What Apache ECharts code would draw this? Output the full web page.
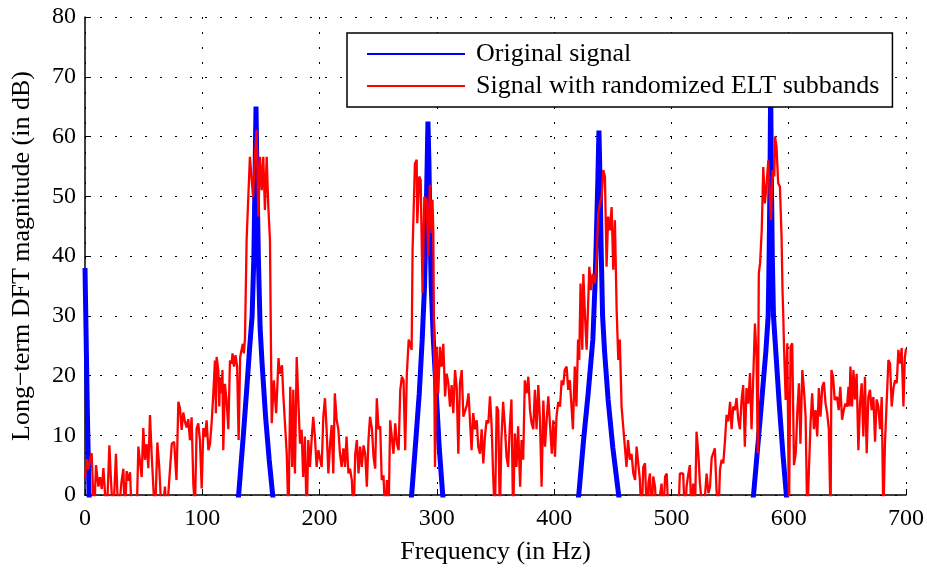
<!DOCTYPE html>
<html>
<head>
<meta charset="utf-8">
<script src="https://cdn.jsdelivr.net/npm/echarts@6/dist/echarts.min.js"></script>
<style>
html,body{margin:0;padding:0;background:#fff;}
#chart{width:927px;height:570px;}
</style>
</head>
<body>
<div id="chart"></div>
<script>
// ---- Data ----
const xTicks = [0, 100, 200, 300, 400, 500, 600, 700];
const yTicks = [0, 10, 20, 30, 40, 50, 60, 70, 80];
const seriesNames = ['Original signal', 'Signal with randomized ELT subbands'];

// Original signal (blue): narrow peaks; values below 0 dB fall outside the axis
const blueFreq = [0, 1, 2, 3, 3.5, 4.5,
  128, 131, 135, 138, 140.5, 142.5, 144, 144.8, 145.8, 146.8, 147.8, 149.3, 151, 154, 157, 160, 163,
  276, 278.5, 282, 285, 287.5, 289.5, 290.8, 291.8, 292.4, 293.2, 294, 295.2, 297, 299.5, 302, 305, 308,
  418, 421, 425, 429, 433, 435, 436.5, 437.3, 438.2, 439.2, 440, 441.3, 443, 446, 450, 455, 458,
  567, 570, 574, 577.5, 580.5, 582.5, 583.3, 584, 584.6, 585.3, 586, 587, 589, 592, 595, 598, 601];
const blueDb = [38, 26, 14, 4, 0, -5,
  -5, 0, 10, 18, 25, 30, 40, 51, 65, 51, 40, 28, 22, 13, 6, 0, -6,
  -4, 0, 9, 17, 26, 35, 46, 56, 62.5, 56, 46, 35, 26, 17, 8, 0, -6,
  -4, 0, 9, 17, 26, 36, 47, 53, 61, 52, 42, 30, 24, 16, 8, 0, -5,
  -4, 0, 9, 17, 24, 30, 40, 52, 68, 52, 40, 30, 24, 15, 7, 0, -5];

// Signal with randomized ELT subbands (red)
const redFreq = [0, 1.5, 2.8, 4.3, 5.7, 7.7, 9.4, 11.4, 12.8, 14.3, 15.7, 18.5, 20.8, 22, 24, 26.4, 28.4, 31, 32.7, 34,
  35.5, 37, 38.4, 40, 44, 45.5, 46.9, 48.3, 49.7, 51.1, 52.6, 54, 55.4, 56.8, 58.2, 59.7, 61.7, 63.4, 65.4, 68.2,
  69.6, 72, 74, 76, 78, 79.6, 81, 82.4, 83.8, 85.3, 86.7, 88, 89.5, 90.9, 92.4, 93.8, 95.2, 96.6, 98, 99.5,
  100.9, 102.3, 103.7, 105.2, 106.6, 108, 109.4, 110.8, 111.6, 112.2, 113.7, 114.5, 115, 116.5, 117.2, 117.9, 119.3, 120.7, 122.2, 123.6,
  125, 125.8, 127, 128.3, 129.7, 131, 132.3, 134.5, 135.5, 136.4, 137.8, 140.6, 141.9, 143.3, 144.8, 146.3, 147.8, 149.2, 150.7, 152,
  153.4, 154.9, 156.3, 157.7, 158.5, 159.2, 161, 163, 165, 166, 168, 169, 170.5, 172, 173.5, 175, 176.7, 177.6, 179, 180.5,
  182, 183.3, 184.7, 186, 187.5, 189, 190.4, 191.8, 193.2, 194.6, 196, 197.5, 199, 200.4, 201.8, 203.2, 204.6, 206, 207.5, 209,
  210.3, 211.7, 213, 214.6, 216, 217.4, 218.8, 220.3, 221.7, 223, 224.6, 226, 227.5, 229, 230.4, 231.8, 233.2, 234.6, 236, 237.5,
  238.9, 240.3, 241.7, 243, 244.6, 246, 247.4, 248.8, 250.3, 251.7, 253, 254.5, 256, 257.4, 258.8, 260.2, 261.6, 263, 264.5, 266,
  267.4, 268.8, 270.2, 271.6, 273, 274.4, 276, 278.5, 279.3, 281.3, 282.8, 283.3, 285, 286.2, 287.8, 289.3, 291.3, 292.7, 294, 295.5,
  296.3, 297, 297.6, 298.4, 299.8, 301.2, 302.6, 304, 305.5, 307, 308.4, 309.8, 311.2, 312.6, 314, 315.5, 316.9, 318.3, 319.7, 321.2,
  322.6, 324, 325.5, 327, 328, 329.6, 331, 332.5, 334, 335.3, 336.8, 338.2, 339.6, 341, 342.4, 343.9, 345.3, 346.7, 348, 349.5,
  351, 352.3, 353.7, 355, 356.5, 358, 359.4, 360.8, 362.2, 363.6, 365, 366.5, 367.9, 369.3, 371, 372.2, 373.6, 375, 376.5, 378,
  379.4, 380.8, 382.2, 383.6, 385, 386.5, 387.9, 389.3, 390.8, 392.2, 393.6, 395, 396.4, 398, 399.3, 400.7, 402, 403.5, 405, 406.4,
  407.8, 409, 410.6, 412, 413.4, 416, 417.6, 419, 420.4, 421.4, 422.5, 424, 424.9, 426.3, 427.7, 430, 431.4, 432.8, 434.8, 436.2,
  437.6, 439, 440.5, 441.9, 443.3, 444.7, 446, 447.5, 449, 450.4, 451.8, 453.3, 454.7, 456, 457.5, 459, 460.3, 461.7, 463, 464.6,
  466, 467.5, 469, 470.3, 471.7, 473, 474.6, 476, 477.5, 479, 480.4, 481.7, 483, 484.5, 486, 487.5, 491.6, 493, 494.6, 496,
  497.5, 505.8, 507.2, 508.6, 510, 511.5, 512.9, 514.3, 515.7, 517.1, 518.5, 520, 521.4, 522.9, 524.3, 525.7, 527.2, 528.6, 530, 531.5,
  532.9, 534.3, 535.7, 537, 538.5, 540, 541.4, 542.8, 544.2, 545.6, 547, 548.5, 550, 551.3, 552.7, 554.1, 555.5, 557, 558.4, 559.8,
  561.2, 562.6, 564, 565.5, 567, 568.3, 569.7, 571.2, 572.6, 573.6, 574.5, 575.6, 577, 578.3, 579.7, 581.2, 582.6, 584, 584.8, 586.3,
  587.7, 588.3, 589.6, 591, 592.5, 593.9, 594.7, 595.3, 596, 597.4, 598.8, 600.2, 601.6, 603, 604.5, 606, 607.3, 608.7, 610, 611.6,
  613, 614.4, 615.8, 617.2, 618.6, 620, 621.5, 622.9, 624.3, 625.7, 627.1, 628.6, 630, 631.4, 632.8, 634.2, 635.7, 636.4, 637.8, 639.2,
  641.2, 642.6, 644, 645.5, 646.9, 648.3, 649.7, 651, 651.8, 652.6, 654, 655.2, 656.5, 657.9, 659.4, 660.8, 662.2, 663.6, 665, 666.5,
  667.9, 669.3, 670.7, 672.2, 673.6, 675, 676.4, 677.9, 679.3, 680.7, 682, 683.6, 685, 686.4, 687.8, 689.3, 690.7, 692.1, 693.5, 695,
  696.3, 697.8, 699, 700];
const redDb = [3, 6, 4.4, 6, 7, -4, 5, 1.4, 3, 1, 4.5, -4, 8.3, 3, -4, 6.9, -4, 2, 4.4, -4,
  4, 2.4, 3.8, -4, -4, 8.1, 8.4, 3, 11.2, 5.9, 8.5, 4.5, 13.4, 6.9, 6.6, -4, 8.8, 4.4, -4, 1.4,
  -4, 3, 8.6, 8.9, 2.5, 15.6, 14.5, 10.9, 13.8, 12.2, 11.3, 12.7, 9.2, 13, 1.7, -2, 11.2, 12, 9.2, 1.1,
  11.2, 9.7, 12.5, 7.5, 8.6, 12.2, 17, 22.5, 13.7, 23.1, 20.9, 14.8, 19.7, 17, 20.9, 7.5, 18.6, 15.8, 11, 22.5,
  22, 23.7, 21.5, 23.4, 21.5, 9.2, 23.1, 25.3, 23.7, 26.2, 42.7, 56.6, 56.6, 49.9, 56.6, 61.1, 46.6, 56.6, 51, 56.6,
  47.7, 56.6, 48.2, 42.7, 26, 12, 19.2, 13.7, 22.9, 20.3, 21.7, 17, 12, 6.9, -4, 18.1, 4.7, 17.6, 3.6, 23.1,
  23.4, 8.6, 10.9, 3, 9.8, -4, 9.2, 4.7, 9.2, 13.1, 9.8, 4.7, 7.5, 7.5, 4.7, 13.1, 16.2, 11, 3.6, 8.6,
  11.7, 3.6, 17, 12.5, 11, 6.9, 4.7, 7.8, 4.7, 9.8, 3.6, 4.4, 2.5, -4, 6.9, 9.2, 3.6, 8.1, 4.7, 8.3,
  6.9, 1.4, 9.2, 13.1, 11.2, 6.4, 4.4, 16.2, 11, 11.5, 2.5, 3.3, -4, 2.5, -4, 12.5, 12.8, 6.9, 12, 8.6,
  7.5, 17.6, 19.8, 19.2, 7.5, 20.3, 26, 24.3, 41, 55.5, 56.1, 45.5, 53.3, 52.7, 33.8, 49.9, 49.4, 39.9, 51.9, 43.8,
  49.4, 43.8, 24.3, 4.7, 24.8, 17, 24.8, 21.5, 25.3, 16.5, 20.3, 18.7, 14.8, 18.4, 13.7, 20.9, 18.1, 6.9, 18.7, 20.9,
  13.1, 13.1, 15, 17, 17, 7.5, 13.7, 11, 12.5, 8.1, 6.9, 11, 5.3, 9.8, 12.5, 12, 16.5, 11.5, 3.3, -4,
  14.8, 14.2, -4, 9.2, 15.6, 11.5, 6.4, 4.7, 11.5, 16, -4, 10.3, 4.7, 11.5, 1.4, 9.2, 5.9, 19.2, 17, 19.8,
  14.2, 12, 11, 17.6, 11, 18.4, 12.5, 1.4, 15.8, 8.1, 12.5, 16.5, 12, 6.9, 12.5, 6.4, 13.1, 15.6, 14.8, 19.2,
  18.4, 20.9, 21.5, 17.6, 19.2, 11, 21.5, 14.8, 26, 22.6, 35.4, 24.3, 37, 30, 24.3, 38.2, 34.3, 37, 35.4, 39.3,
  47.1, 48.8, 49.9, 54.4, 53.3, 38.2, 46.6, 44.3, 48.2, 37.7, 46, 30.9, 22.6, 26, 14.8, 11.2, 11.5, 4.7, 9.2, 5.9,
  6.9, 3.6, 2.5, 8.1, 8.1, 2.8, -4, 4.7, 5.3, -4, 2, 3.6, -4, 3.1, 1.4, -4, 1.9, -4, 3.1, 3.6,
  -4, -4, 3.6, 3.9, 3.6, -4, 1.4, 3.4, 5, -4, 1.9, -4, 10.6, 7, 1.9, 2.2, -4, -4, 3.6, 0.3,
  1.4, 6.2, 6.4, 7.8, 0.8, -4, 4.2, 5.9, 5.3, 8.9, 13.4, 12.3, 15.6, 11, 14.8, 14.2, 16.2, 12.6, 11, 15.9,
  18.4, 8.1, 17.9, 15.3, 20.4, 11, 19.2, 28.7, 23, 7, 37.1, 38.8, 44.3, 54.9, 48.8, 52.2, 56, 49.4, 46, 54.4,
  53.3, 60, 58.3, 52.2, 51.6, 43.2, 34.3, 30.4, 24.8, 15.9, 25.4, -4, 24.8, 25.4, 5, 7, 13.8, 18.7, 8.6, 20.9,
  17.6, 13.1, -4, -4, 12, 17, 11, 14.2, 9.8, 17.9, 13.1, 18.1, 18.9, 15.3, 13.7, 11, -4, 20.9, 19.8, 15.9,
  16.4, 14.2, 18.1, 12.6, 14.2, 15.3, 14.8, 18.1, 14.8, 21.5, 14.8, 20.9, 16, 20.3, 7.5, 15.3, 18.7, 9.8, 19.8, 7,
  16.4, 17.6, 14.2, 16.4, 8.9, 16, 14.8, 11, 16.4, -4, 8.3, 8.6, 22.6, 22, 14.8, 17.9, 19.2, 18.7, 24.3, 22,
  24.6, 14.8, 23, 24.5];

// ---- Chart ----
const FONT = '"Liberation Serif", "Times New Roman", serif';
const pair = (xs, ys) => xs.map((x, i) => [x, ys[i]]);

const chart = echarts.init(document.getElementById('chart'), null, {renderer: 'canvas'});
const dotted = {color: '#000', width: 1, type: [2, 13]};

chart.setOption({
  animation: false,
  backgroundColor: '#fff',
  grid: {left: 85, right: 21, top: 17, bottom: 75, containLabel: false},
  legend: {
    orient: 'vertical', left: 347, top: 33,
    itemWidth: 98, itemHeight: 1, itemGap: 6,
    padding: [8, 13, 8, 19],
    borderColor: '#000', borderWidth: 1.5, backgroundColor: '#fff',
    itemStyle: {opacity: 0},
    textStyle: {fontFamily: FONT, fontSize: 26, color: '#000', padding: [0, 0, 0, 6]},
    data: seriesNames
  },
  xAxis: {
    type: 'value', min: xTicks[0], max: xTicks[xTicks.length - 1], interval: 100,
    name: 'Frequency (in Hz)', nameLocation: 'middle', nameGap: 44,
    nameTextStyle: {fontFamily: FONT, fontSize: 26, color: '#000'},
    axisLine: {show: true, onZero: false, lineStyle: {color: '#000', width: 1.5}},
    axisTick: {show: true, inside: true, length: 6, lineStyle: {color: '#000', width: 1}},
    axisLabel: {fontFamily: FONT, fontSize: 24, color: '#000', margin: 12},
    splitLine: {show: true, lineStyle: dotted}
  },
  yAxis: {
    type: 'value', min: yTicks[0], max: yTicks[yTicks.length - 1], interval: 10,
    name: 'Long\u2212term DFT magnitude (in dB)', nameLocation: 'middle', nameGap: 50, nameRotate: 90,
    nameTextStyle: {fontFamily: FONT, fontSize: 26, color: '#000'},
    axisLine: {show: true, onZero: false, lineStyle: {color: '#000', width: 1.5}},
    axisTick: {show: true, inside: true, length: 6, lineStyle: {color: '#000', width: 1}},
    axisLabel: {fontFamily: FONT, fontSize: 24, color: '#000', margin: 9},
    splitLine: {show: true, lineStyle: dotted}
  },
  series: [
    {
      name: seriesNames[0], type: 'line', data: pair(blueFreq, blueDb),
      symbol: 'none', clip: true, z: 2,
      lineStyle: {color: '#0000ff', width: 5},
      itemStyle: {color: '#0000ff'}
    },
    {
      name: seriesNames[1], type: 'line', data: pair(redFreq, redDb),
      symbol: 'none', clip: true, z: 3,
      lineStyle: {color: '#ff0000', width: 2.3},
      itemStyle: {color: '#ff0000'}
    }
  ]
});
</script>
</body>
</html>
